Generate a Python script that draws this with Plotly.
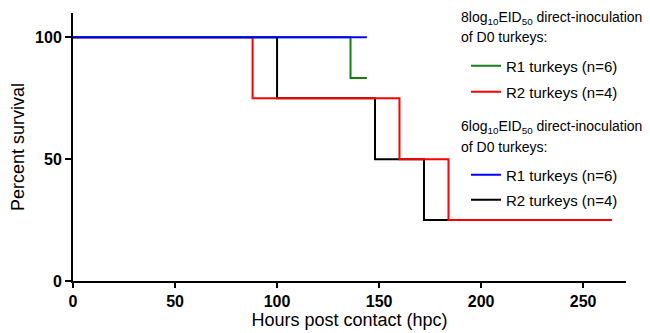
import plotly.graph_objects as go

# Kaplan-Meier step data (hours post contact, percent survival)
g8_r1_x = [0, 136, 136, 144]
g8_r1_y = [100, 100, 83.3, 83.3]
g8_r2_x = [0, 88, 88, 160, 160, 184, 184, 264]
g8_r2_y = [100, 100, 75, 75, 50, 50, 25, 25]
g6_r1_x = [0, 144]
g6_r1_y = [100, 100]
g6_r2_x = [0, 100, 100, 148, 148, 172, 172, 264]
g6_r2_y = [100, 100, 75, 75, 50, 50, 25, 25]

head8_lines = ["8log<sub>10</sub>EID<sub>50</sub> direct-inoculation", "of D0 turkeys:"]
head6_lines = ["6log<sub>10</sub>EID<sub>50</sub> direct-inoculation", "of D0 turkeys:"]

FONT = "Liberation Sans, Arial, sans-serif"
W, H = 650, 333
ML, MR, MT, MB = 73, 24, 13, 52
PH = H - MT - MB
PW = W - ML - MR

fig = go.Figure()
lw = 2
fig.add_trace(go.Scatter(x=g6_r2_x, y=g6_r2_y, mode="lines", line=dict(color="black", width=lw),
                         name="R2 turkeys (n=4)", legend="legend4"))
fig.add_trace(go.Scatter(x=g8_r2_x, y=g8_r2_y, mode="lines", line=dict(color="#ff0000", width=lw),
                         name="R2 turkeys (n=4)", legend="legend2"))
fig.add_trace(go.Scatter(x=g8_r1_x, y=g8_r1_y, mode="lines", line=dict(color="#167d16", width=lw),
                         name="R1 turkeys (n=6)", legend="legend"))
fig.add_trace(go.Scatter(x=g6_r1_x, y=g6_r1_y, mode="lines", line=dict(color="#0000ff", width=lw),
                         name="R1 turkeys (n=6)", legend="legend3"))


def leg(ypx):
    return dict(xref="container", yref="container", xanchor="left", yanchor="middle",
                x=466 / W, y=1 - ypx / H,
                bgcolor="rgba(0,0,0,0)", font=dict(size=15, family=FONT), itemwidth=30)


annotations = []
for lines, ys in ((head8_lines, (18, 37)), (head6_lines, (127, 147))):
    for txt, ypx in zip(lines, ys):
        annotations.append(dict(text=txt, xref="paper", yref="paper",
                                x=(459 - ML) / PW, y=(H - MB - ypx) / PH,
                                xanchor="left", yanchor="middle", showarrow=False,
                                font=dict(size=14, family=FONT, color="black")))

fig.update_layout(
    width=W, height=H,
    margin=dict(l=ML, r=MR, t=MT, b=MB, autoexpand=False),
    plot_bgcolor="white", paper_bgcolor="white",
    font=dict(family=FONT, color="black"),
    showlegend=True,
    legend=leg(66), legend2=leg(92), legend3=leg(175), legend4=leg(200),
    annotations=annotations,
    xaxis=dict(range=[0, 271], tickvals=[0, 50, 100, 150, 200, 250],
               showline=True, linecolor="black", linewidth=2, ticks="outside",
               ticklen=5, tickwidth=2, tickcolor="black", showgrid=False, zeroline=False,
               automargin=False,
               tickfont=dict(size=16, family=FONT, weight="bold"),
               title=dict(text="Hours post contact (hpc)", font=dict(size=18), standoff=2)),
    yaxis=dict(range=[0, 110], tickvals=[0, 50, 100],
               showline=True, linecolor="black", linewidth=2, ticks="outside",
               ticklen=6, tickwidth=2, tickcolor="black", showgrid=False, zeroline=False,
               automargin=False,
               tickfont=dict(size=16, family=FONT, weight="bold"),
               title=dict(text="Percent survival", font=dict(size=18), standoff=6)),
)

fig.write_html("out.html")
